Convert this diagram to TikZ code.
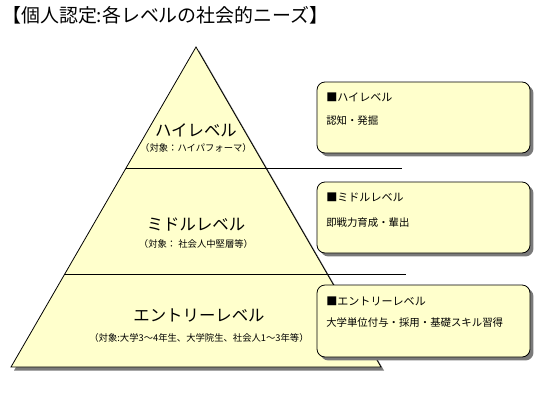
\documentclass[tikz,border=0pt]{standalone}
\usepackage{fontspec}
\setmainfont{Noto Sans CJK JP}
\usetikzlibrary{shadows}
\definecolor{paleyel}{HTML}{FFFFCC}
\definecolor{shadowgray}{HTML}{7A7A7A}
\begin{document}
\begin{tikzpicture}[x=0.75pt,y=-0.75pt,
  infobox/.style={draw=black, line width=0.6pt, fill=paleyel, rounded corners=6pt,
    minimum width=159.75pt, minimum height=53.25pt, inner sep=0pt,
    drop shadow={shadow xshift=2.6pt, shadow yshift=-2.6pt, fill=shadowgray, opacity=1}},
  boxhead/.style={anchor=west, font=\fontsize{8.3}{9}\selectfont, inner sep=0pt},
  boxbody/.style={anchor=west, font=\fontsize{7.8}{9}\selectfont, inner sep=0pt},
  levelname/.style={font=\fontsize{12.3}{14}\selectfont, inner sep=0pt},
  levelsub/.style={font=\fontsize{7}{9}\selectfont, inner sep=0pt},
  divider/.style={line width=0.7pt}
]
\useasboundingbox (0,0) rectangle (538,400);
% title
\node[anchor=west, inner sep=0pt, font=\fontsize{14.2}{16}\selectfont] (title) at (2,15) {【個人認定:各レベルの社会的ニーズ】};
% pyramid shadow and body
\coordinate (apex) at (196,47);
\coordinate (bl) at (11,367);
\coordinate (br) at (381,367);
\fill[shadowgray] ([shift={(3,3.5)}]apex) -- ([shift={(3,3.5)}]br) -- ([shift={(3,3.5)}]bl) -- cycle;
\draw[fill=paleyel, line width=0.6pt] (apex) -- (br) -- (bl) -- cycle;
% dividers
\coordinate (d1l) at (126.1,168);
\coordinate (d1r) at (402,168);
\coordinate (d2l) at (64.8,274);
\coordinate (d2r) at (406,274);
\draw[divider] (d1l) -- (d1r);
\draw[divider] (d2l) -- (d2r);
% level texts
\node[levelname] (hiname) at (196,130) {ハイレベル};
\node[levelsub] (hisub) at (196,148) {（対象：ハイパフォーマ）};
\node[levelname] (midname) at (196,225) {ミドルレベル};
\node[levelsub] (midsub) at (196,244) {（対象： 社会人中堅層等）};
\node[levelname] (entname) at (199,315) {エントリーレベル};
\node[levelsub] (entsub) at (199,338) {（対象:大学3～4年生、大学院生、社会人1～3年等）};
% boxes
\node[infobox] (box1) at (423.5,117.5) {};
\node[infobox] (box2) at (423.5,217.5) {};
\node[infobox, minimum height=54pt] (box3) at (423.5,321) {};
\node[boxhead] (h1) at (326,97) {■ハイレベル};
\node[boxbody] (b1) at (326,121) {認知・発掘};
\node[boxhead] (h2) at (326,197) {■ミドルレベル};
\node[boxbody] (b2) at (326,223) {即戦力育成・輩出};
\node[boxhead] (h3) at (326,301) {■エントリーレベル};
\node[boxbody] (b3) at (326,323) {大学単位付与・採用・基礎スキル習得};
\end{tikzpicture}
\end{document}
